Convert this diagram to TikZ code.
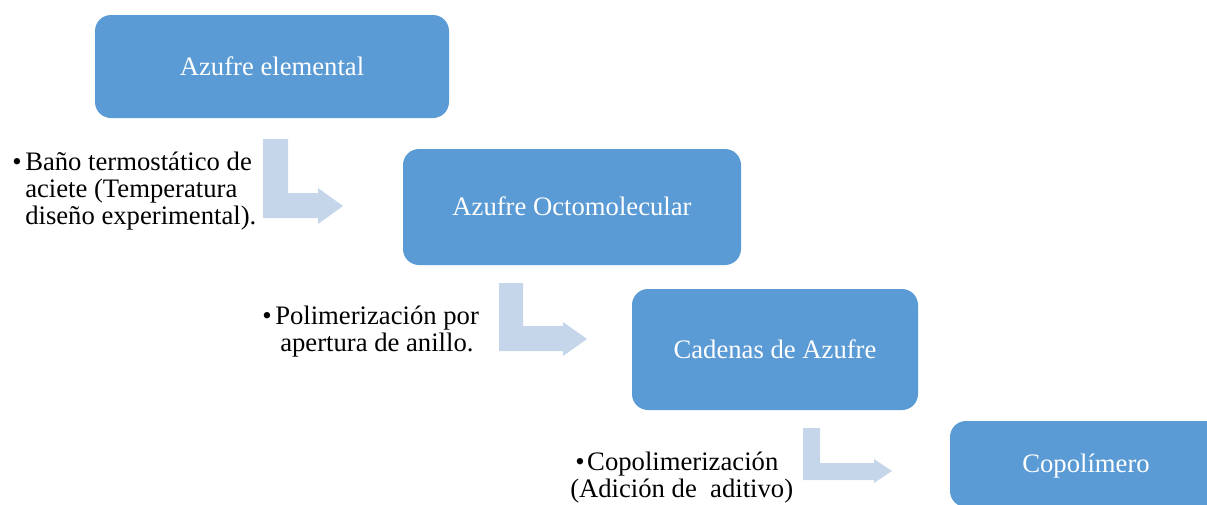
\documentclass[tikz,border=0pt]{standalone}
\usepackage{fontspec}
\setmainfont{Liberation Serif}
\definecolor{boxblue}{HTML}{5B9BD5}
\definecolor{arrowblue}{HTML}{C5D5EA}
\tikzset{
  stagebox/.style={fill=boxblue, draw=none, rounded corners=12pt, text=white,
    font=\fontsize{20}{20.3}\selectfont, inner sep=0pt, text height=13.6pt, text depth=0.6pt},
  bentarrow/.style={fill=arrowblue, draw=none},
  notetext/.style={font=\fontsize{20}{20.3}\selectfont, text=black, inner sep=0pt, anchor=base west},
}
\begin{document}
\begin{tikzpicture}[x=0.75pt,y=-0.75pt]
\useasboundingbox (0,0) rectangle (1207,504);
\clip (0,0) rectangle (1207,504);
% boxes
\node[stagebox, minimum width=265.5pt, minimum height=77.25pt] (b1) at (272,66.5) {Azufre elemental};
\node[stagebox, minimum width=253.5pt, minimum height=87pt] (b2) at (572,207) {Azufre Octomolecular};
\node[stagebox, minimum width=214.5pt, minimum height=90.75pt] (b3) at (775,349.5) {Cadenas de Azufre};
\node[stagebox, minimum width=204pt, minimum height=64.5pt] (b4) at (1086,464) {Copolímero};
% bent arrows
\fill[bentarrow] (263,139) -- (288,139) -- (288,193) -- (318,193) -- (318,188) -- (343,206) -- (318,224) -- (318,218) -- (263,218) -- cycle;
\fill[bentarrow] (499,283) -- (523,283) -- (523,326) -- (563,326) -- (563,322) -- (587,339) -- (563,356) -- (563,351) -- (499,351) -- cycle;
\fill[bentarrow] (803,428) -- (820,428) -- (820,463) -- (874,463) -- (874,459) -- (892,471) -- (874,483) -- (874,480) -- (803,480) -- cycle;
% notes
\node[notetext] (t1) at (12,170) {\begin{tabular}[t]{@{}l@{}l@{}}\makebox[9.75pt][l]{•}&Baño termostático de\\ &aciete (Temperatura\\ &diseño experimental).\end{tabular}};
\node[notetext] (t2) at (262,324) {\begin{tabular}[t]{@{}l@{}}\makebox[9.75pt][l]{•}Polimerización por\\ \hspace*{13.5pt}apertura de anillo.\end{tabular}};
\node[notetext] (t3) at (570,470) {\begin{tabular}[t]{@{}l@{}}\hspace*{3.75pt}\makebox[9pt][l]{•}Copolimerización\\ (Adición de\ \ aditivo)\end{tabular}};
\end{tikzpicture}
\end{document}
